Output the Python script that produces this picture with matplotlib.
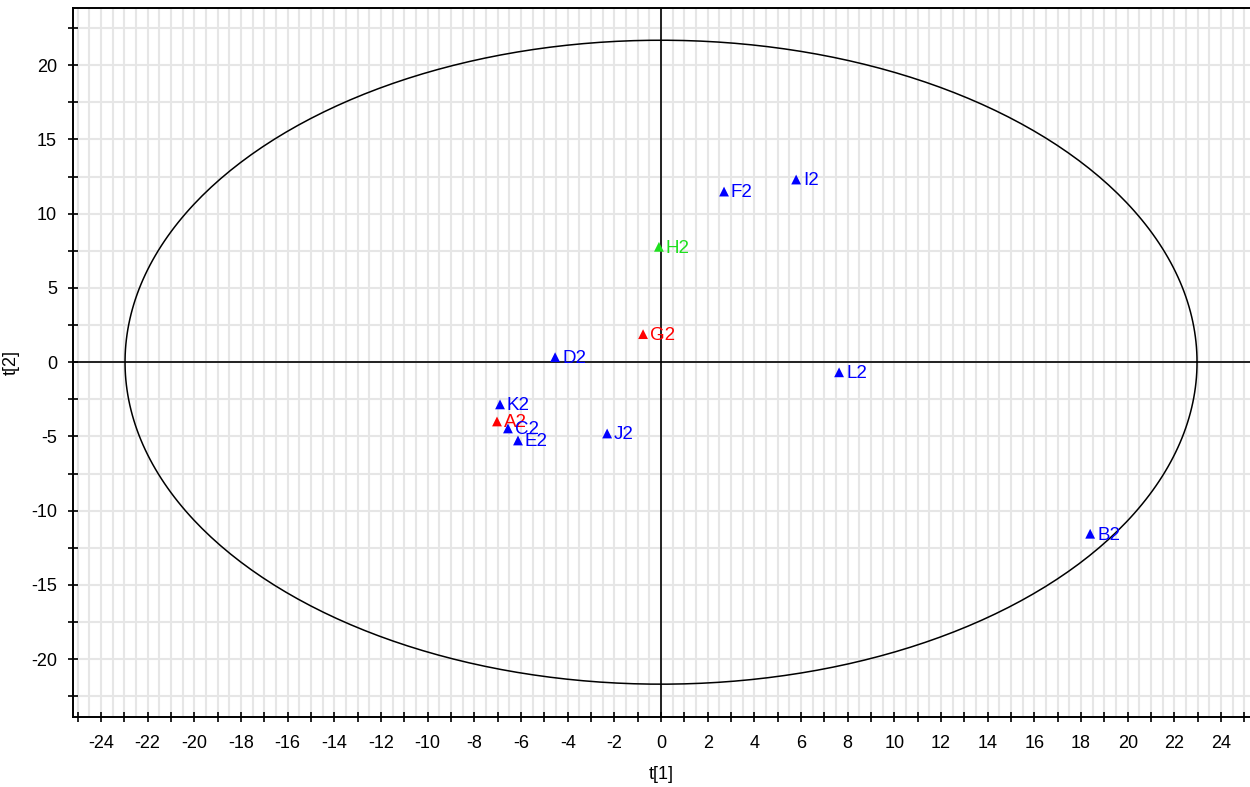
import numpy as np
import matplotlib
matplotlib.use("Agg")
import matplotlib.pyplot as plt
from matplotlib.ticker import MultipleLocator

plt.rcParams['font.family'] = ['Liberation Sans', 'DejaVu Sans']
plt.rcParams['axes.unicode_minus'] = False

# Score values (t[1], t[2]) per observation
labels = ["K2", "A2", "C2", "E2", "J2", "D2", "G2", "H2", "F2", "I2", "L2", "B2"]
t1 = [-6.90, -7.03, -6.56, -6.13, -2.31, -4.54, -0.77, -0.09, 2.70, 5.79, 7.63, 18.39]
t2 = [-2.84, -3.99, -4.46, -5.27, -4.80, 0.34, 1.89, 7.77, 11.49, 12.30, -0.68, -11.55]
groups = ["b", "r", "b", "b", "b", "b", "r", "g", "b", "b", "b", "b"]
group_colors = {"b": "#0000ff", "r": "#ff0000", "g": "#1ee01e"}

# Hotelling T2 ellipse semi-axes
ell_a = 22.97
ell_b = 21.68

fig = plt.figure(figsize=(12.5, 7.87), dpi=100)
ax = fig.add_axes([73 / 1250, (787 - 716.7) / 787, 1 - 73 / 1250, 708.7 / 787])

ax.set_xlim(-25.2, 25.24)
ax.set_ylim(-23.87, 23.85)

ax.xaxis.set_major_locator(MultipleLocator(2))
ax.xaxis.set_minor_locator(MultipleLocator(1))
ax.yaxis.set_major_locator(MultipleLocator(5))
ax.yaxis.set_minor_locator(MultipleLocator(2.5))

# light grid: fine vertical lines, coarser horizontal lines
for xv in np.arange(-25, 25.5, 0.5):
    ax.axvline(xv, color="#e6e6e6", lw=1.5, zorder=0)
for yv in np.arange(-22.5, 24, 2.5):
    ax.axhline(yv, color="#e6e6e6", lw=1.5, zorder=0)

ax.axhline(0, color="black", lw=1.2, zorder=1)
ax.axvline(0, color="black", lw=1.2, zorder=1)

theta = np.linspace(0, 2 * np.pi, 400)
ax.plot(ell_a * np.cos(theta), ell_b * np.sin(theta), color="black", lw=1.1, zorder=2)

for x, y, lab, g in zip(t1, t2, labels, groups):
    c = group_colors[g]
    ax.scatter([x], [y], marker="^", s=50, color=c, edgecolors="none", zorder=3)
    ax.annotate(lab, (x, y), xytext=(5, -1), textcoords="offset points",
                color=c, fontsize=13.5, va="center", ha="left", zorder=4)

for side in ["left", "bottom", "top"]:
    ax.spines[side].set_linewidth(1.4)
    ax.spines[side].set_color("black")
ax.spines["right"].set_visible(False)

ax.tick_params(which="both", direction="inout", length=7, width=1.2, labelsize=13, pad=8)
ax.tick_params(axis="x", pad=10)

ax.set_xlabel("t[1]", fontsize=13, labelpad=10)
ax.set_ylabel("t[2]", fontsize=13, labelpad=8)

fig.savefig("out.png", dpi=100)
